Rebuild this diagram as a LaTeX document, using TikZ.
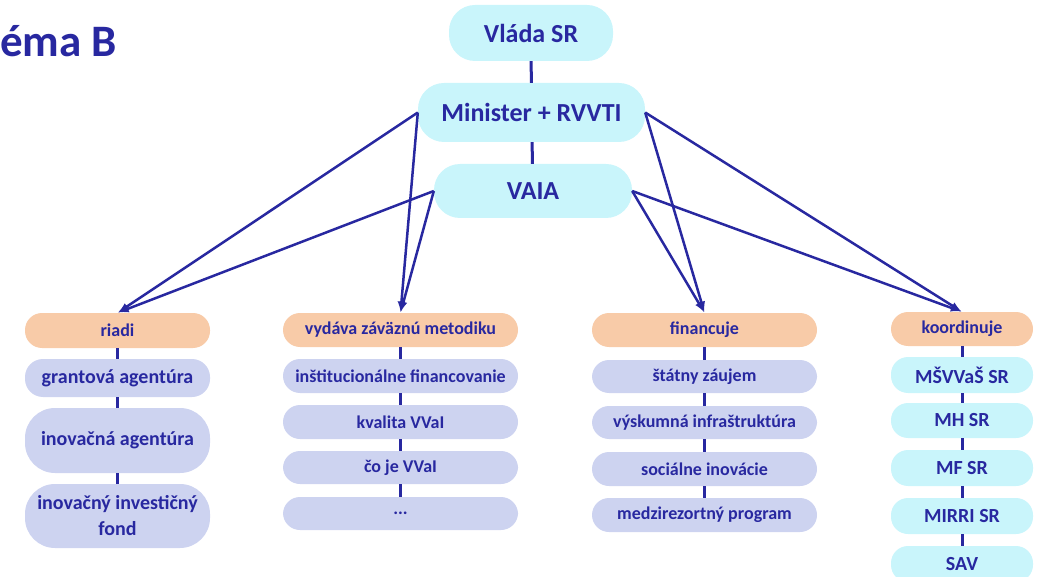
\documentclass[tikz,border=0pt]{standalone}
\usepackage{fontspec}
\setmainfont{Carlito}
\usetikzlibrary{arrows, positioning}
\definecolor{ink}{RGB}{40,40,160}
\definecolor{skyFill}{RGB}{201,245,251}
\definecolor{peachFill}{RGB}{248,203,168}
\definecolor{lilacFill}{RGB}{205,211,240}
\tikzset{
    baseBox/.style={text=ink, align=center, inner sep=0pt, font=\bfseries\fontsize{18}{24}\selectfont},
    topBox/.style={baseBox, fill=skyFill, rounded corners=26pt, font=\bfseries\fontsize{26}{30}\selectfont},
    headBox/.style={baseBox, fill=peachFill, rounded corners=17pt},
    itemBox/.style={baseBox, fill=lilacFill, rounded corners=17pt},
    bigItemBox/.style={itemBox, rounded corners=30pt, font=\bfseries\fontsize{20}{26}\selectfont},
    orgBox/.style={baseBox, fill=skyFill, rounded corners=17pt, font=\bfseries\fontsize{20}{24}\selectfont},
    stem/.style={ink, line width=3pt},
    reoArrow/.style={->, >=latex, ink, line width=2.5pt, shorten >=1pt},
}

\begin{document}
\begin{tikzpicture}[x=1pt, y=-1pt]
    \useasboundingbox (0,0) rectangle (1038,577);

    % nadpis
    \node[anchor=base west, inner sep=0pt, text=ink, font=\bfseries\fontsize{45}{48}\selectfont] (title) at (0,57) {éma B};

    % horna cast
    \node[topBox, minimum width=164pt, minimum height=56pt] (vlada) at (531,33) {Vláda SR};
    \node[topBox, minimum width=227pt, minimum height=59pt] (minister) at (531.5,112.5) {Minister + RVVTI};
    \node[topBox, minimum width=198pt, minimum height=54pt] (vaia) at (533,191) {VAIA};

    % riadi
    \node[headBox, minimum width=185pt, minimum height=35pt] (riadi) at (117.5,330.5) {riadi};
    \node[bigItemBox, rounded corners=18pt, minimum width=185pt, minimum height=38pt] (grant) at (117.5,378) {grantová agentúra};
    \node[bigItemBox, minimum width=185pt, minimum height=65pt] (inovAg) at (117.5,440.5) {inovačná agentúra};
    \node[bigItemBox, minimum width=185pt, minimum height=64pt] (fond) at (117.5,516) {inovačný investičný\\fond};

    % metodika
    \node[headBox, minimum width=235pt, minimum height=34pt] (metod) at (400.5,330) {vydáva záväznú metodiku};
    \node[itemBox, minimum width=235pt, minimum height=34pt] (inst) at (400.5,376) {inštitucionálne financovanie};
    \node[itemBox, minimum width=235pt, minimum height=34pt] (kval) at (400.5,422) {kvalita VVaI};
    \node[itemBox, minimum width=235pt, minimum height=33pt] (coje) at (400.5,467.5) {čo je VVaI};
    \node[itemBox, minimum width=235pt, minimum height=33pt] (dots) at (400.5,513.5) {...};

    % financuje
    \node[headBox, minimum width=225pt, minimum height=34pt] (fin) at (704.5,330) {financuje};
    \node[itemBox, minimum width=225pt, minimum height=33pt] (statny) at (704.5,376.5) {štátny záujem};
    \node[itemBox, minimum width=225pt, minimum height=33pt] (vysk) at (704.5,422.5) {výskumná infraštruktúra};
    \node[itemBox, minimum width=225pt, minimum height=34pt] (soc) at (704.5,469) {sociálne inovácie};
    \node[itemBox, minimum width=225pt, minimum height=34pt] (medz) at (704.5,515) {medzirezortný program};

    % koordinuje
    \node[headBox, minimum width=142pt, minimum height=34pt] (koord) at (962,329) {koordinuje};
    \node[orgBox, minimum width=142pt, minimum height=36pt] (msvvas) at (962,375) {MŠVVaŠ SR};
    \node[orgBox, minimum width=142pt, minimum height=35pt] (mh) at (962,420.5) {MH SR};
    \node[orgBox, minimum width=142pt, minimum height=36pt] (mf) at (962,468) {MF SR};
    \node[orgBox, minimum width=142pt, minimum height=36pt] (mirri) at (962,516) {MIRRI SR};
    \node[orgBox, minimum width=142pt, minimum height=36pt] (sav) at (962,564) {SAV};

    % spojnice
    \foreach \a/\b in {vlada/minister, minister/vaia,
        riadi/grant, grant/inovAg, inovAg/fond,
        metod/inst, inst/kval, kval/coje, coje/dots,
        fin/statny, statny/vysk, vysk/soc, soc/medz,
        koord/msvvas, msvvas/mh, mh/mf, mf/mirri, mirri/sav}
        \draw[stem] (\a) -- (\b);

    % sipky
    \foreach \s/\t in {minister.west/riadi.north, minister.west/metod.north,
        vaia.west/riadi.north, vaia.west/metod.north,
        minister.east/fin.north, minister.east/koord.north,
        vaia.east/fin.north, vaia.east/koord.north}
        \draw[reoArrow] (\s) -- (\t);

\end{tikzpicture}
\end{document}
